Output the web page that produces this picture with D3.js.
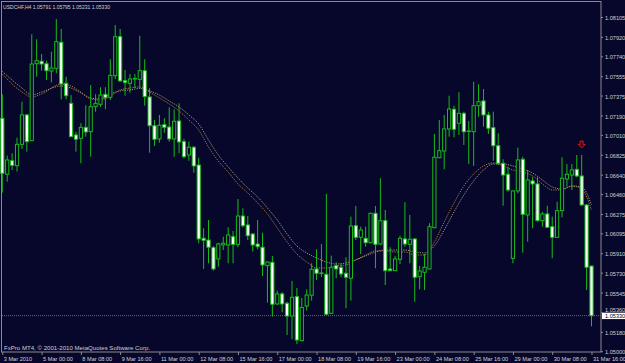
<!DOCTYPE html>
<html>
<head>
<meta charset="utf-8">
<script src="https://cdn.jsdelivr.net/npm/d3@7"></script>
<style>
  body { margin: 0; background: #07072b; }
  svg { display: block; }
</style>
</head>
<body>
<div id="chart"></div>
<script>
// USDCHF H4, 3 Mar 16:00 .. 31 Mar 16:00 (121 bars)
const symbolLabel = 'USDCHF,H4  1.05791 1.05795 1.05231 1.05330';
const copyright = 'FxPro MT4, \u00a9 2001-2010 MetaQuotes Software Corp.';

const opens = [1.07164,1.06644,1.06770,1.06724,1.06922,1.07195,1.06956,1.07671,1.07694,1.07671,
  1.07603,1.07628,1.07870,1.07489,1.07303,1.07009,1.06978,1.07080,1.07040,1.07272,
  1.07294,1.07387,1.07359,1.07560,1.07922,1.07513,1.07489,1.07529,1.07526,1.07606,
  1.07362,1.07095,1.06972,1.07105,1.07083,1.06972,1.07139,1.06947,1.06823,1.06895,
  1.06730,1.06049,1.06033,1.05962,1.05857,1.05987,1.05987,1.06064,1.05993,1.06256,
  1.06173,1.06089,1.05996,1.05966,1.05795,1.05826,1.05439,1.05532,1.05445,1.05327,
  1.05507,1.05098,1.05420,1.05520,1.05764,1.05727,1.05715,1.05352,1.05795,1.05780,
  1.05724,1.05678,1.06166,1.06058,1.06049,1.06008,1.06281,1.05996,1.06213,1.05764,
  1.05748,1.05854,1.06043,1.05993,1.06043,1.05692,1.05733,1.05764,1.06148,1.06798,
  1.06860,1.07065,1.07248,1.07118,1.07210,1.07046,1.07039,1.07281,1.07325,1.07195,
  1.07077,1.06909,1.06746,1.06644,1.05863,1.06489,1.06783,1.06266,1.06582,1.06554,
  1.06213,1.06275,1.06157,1.06058,1.06306,1.06600,1.06637,1.06690,1.06628,1.06359,
  1.05791];
const highs = [1.07387,1.06817,1.06839,1.06984,1.07318,1.07204,1.07944,1.07898,1.07761,1.07699,
  1.07783,1.08086,1.07994,1.07550,1.07380,1.07039,1.07118,1.07285,1.07473,1.07387,
  1.07452,1.07452,1.07712,1.08031,1.07994,1.07613,1.07576,1.07576,1.07931,1.07712,
  1.07443,1.07148,1.07195,1.07164,1.07266,1.07248,1.07303,1.06972,1.06947,1.06907,
  1.06798,1.06142,1.06219,1.05978,1.06008,1.06064,1.06151,1.06117,1.06414,1.06328,
  1.06256,1.06096,1.06219,1.06101,1.05834,1.05885,1.05562,1.05548,1.05460,1.05653,
  1.05587,1.05495,1.05575,1.05817,1.05947,1.05996,1.06461,1.05888,1.05826,1.05817,
  1.05873,1.06250,1.06349,1.06157,1.06157,1.06287,1.06349,1.06607,1.06312,1.05966,
  1.05885,1.06073,1.06384,1.06266,1.06047,1.05792,1.05903,1.06189,1.07018,1.07148,
  1.07195,1.07374,1.07281,1.07406,1.07225,1.07139,1.07504,1.07480,1.07436,1.07225,
  1.07225,1.07025,1.06783,1.06714,1.06493,1.06891,1.06807,1.06684,1.06616,1.06616,
  1.06296,1.06352,1.06250,1.06389,1.06802,1.06739,1.06739,1.06823,1.06823,1.06363,
  1.05795];
const lows = [1.06473,1.06575,1.06684,1.06668,1.06879,1.06854,1.06953,1.07550,1.07606,1.07520,
  1.07497,1.07582,1.07341,1.07341,1.06990,1.06854,1.06746,1.06993,1.06807,1.07225,
  1.07272,1.07248,1.07334,1.07529,1.07504,1.07374,1.07402,1.07445,1.07443,1.07281,
  1.06844,1.06907,1.06937,1.07030,1.06947,1.06807,1.06839,1.06792,1.06770,1.06659,
  1.06003,1.05764,1.05817,1.05748,1.05785,1.05940,1.05817,1.05817,1.05966,1.06151,
  1.06033,1.05925,1.05947,1.05699,1.05451,1.05321,1.05430,1.05362,1.05151,1.05111,
  1.05067,1.05090,1.05377,1.05470,1.05662,1.05690,1.05337,1.05346,1.05678,1.05687,
  1.05399,1.05470,1.06033,1.05903,1.05971,1.06003,1.05770,1.05987,1.05615,1.05745,
  1.05745,1.05810,1.05971,1.05817,1.05460,1.05575,1.05569,1.05761,1.06142,1.06792,
  1.06690,1.06993,1.06987,1.07009,1.06916,1.06739,1.06721,1.07179,1.07086,1.07018,
  1.06770,1.06730,1.06352,1.06482,1.05817,1.06467,1.05915,1.06018,1.06142,1.06203,
  1.06157,1.06147,1.05863,1.06054,1.06244,1.06529,1.06498,1.06616,1.06352,1.05569,
  1.05231];
const closes = [1.06653,1.06777,1.06727,1.06922,1.07195,1.06947,1.07668,1.07699,1.07668,1.07606,
  1.07631,1.07876,1.07483,1.07374,1.06993,1.06969,1.07080,1.07037,1.07272,1.07303,
  1.07380,1.07355,1.07563,1.07922,1.07511,1.07495,1.07529,1.07534,1.07606,1.07365,
  1.07095,1.06969,1.07099,1.07080,1.06972,1.07136,1.06944,1.06807,1.06895,1.06721,
  1.06043,1.06031,1.05966,1.05764,1.05996,1.06003,1.06080,1.05993,1.06256,1.06166,
  1.06073,1.05987,1.05971,1.05801,1.05829,1.05436,1.05532,1.05439,1.05327,1.05501,
  1.05104,1.05406,1.05522,1.05761,1.05724,1.05722,1.05343,1.05780,1.05764,1.05718,
  1.05687,1.06163,1.06058,1.06126,1.06008,1.06281,1.05993,1.06213,1.05748,1.05748,
  1.05857,1.06049,1.05996,1.06040,1.05687,1.05745,1.05780,1.06157,1.06802,1.06863,
  1.07065,1.07250,1.07062,1.07210,1.07039,1.07043,1.07281,1.07318,1.07195,1.07071,
  1.06909,1.06746,1.06637,1.06498,1.06489,1.06777,1.06272,1.06591,1.06554,1.06213,
  1.06275,1.06151,1.06058,1.06306,1.06607,1.06644,1.06684,1.06628,1.06359,1.05780,
  1.05330];

const maBars = [0,4,6,8,12,14,16,18,20,22,24,26,28,30,32,34,36,38,40,42,44,46,48,50,52,54,56,58,60,
  62,64,66,68,70,72,74,76,78,80,82,84,86,88,90,92,94,96,98,100,102,104,106,108,110,112,114,116,118,120];
const maSlow = [1.07599,1.07445,1.07380,1.07408,1.07464,1.07445,1.07399,1.07353,1.07343,1.07390,
  1.07418,1.07427,1.07441,1.07418,1.07380,1.07325,1.07269,1.07195,1.07111,1.06962,1.06823,1.06712,
  1.06609,1.06516,1.06433,1.06331,1.06219,1.06089,1.05978,1.05913,1.05866,1.05829,1.05810,1.05820,
  1.05848,1.05885,1.05922,1.05940,1.05940,1.05940,1.05922,1.05913,1.05978,1.06126,1.06294,1.06451,
  1.06582,1.06684,1.06739,1.06739,1.06721,1.06693,1.06656,1.06591,1.06526,1.06507,1.06535,1.06526,
  1.06359];
const maFast = [1.07576,1.07408,1.07362,1.07390,1.07483,1.07464,1.07408,1.07343,1.07334,1.07371,
  1.07427,1.07445,1.07455,1.07408,1.07353,1.07297,1.07232,1.07148,1.07055,1.06897,1.06767,1.06665,
  1.06554,1.06470,1.06377,1.06275,1.06145,1.06015,1.05903,1.05829,1.05773,1.05773,1.05792,1.05801,
  1.05848,1.05894,1.05931,1.05931,1.05922,1.05922,1.05894,1.05894,1.06015,1.06201,1.06377,1.06535,
  1.06647,1.06721,1.06749,1.06721,1.06684,1.06665,1.06628,1.06554,1.06498,1.06498,1.06535,1.06507,
  1.06312];

const signalBars = [118];
const signalPrices = [1.06888];
const bidPrice = 1.05330;

const priceTicks = [1.08105,1.07920,1.07740,1.07555,1.07375,1.07190,1.07010,1.06825,1.06640,
  1.06460,1.06275,1.06095,1.05910,1.05730,1.05545,1.05360,1.05180,1.05000];
const timeTickBars = [0,8,16,24,32,40,48,56,64,72,80,88,96,104,112,120];
const timeLabels = ['3 Mar 2010','5 Mar 00:00','8 Mar 08:00','9 Mar 16:00','11 Mar 00:00',
  '12 Mar 08:00','15 Mar 16:00','17 Mar 00:00','18 Mar 08:00','19 Mar 16:00','23 Mar 00:00',
  '24 Mar 08:00','25 Mar 16:00','29 Mar 00:00','30 Mar 08:00','31 Mar 16:00'];

const width = 625;
const height = 363;
const plotRight = 601;
const plotBottom = 352;

const bg = '#07072b';
const green = '#17bd17';
const borderColor = '#8c8c8c';
const textColor = '#d0d0d0';
const font = 'Liberation Sans, Arial, sans-serif';
const bodyWidth = 3.2;

const svg = d3.select('#chart').append('svg').attr('width', width).attr('height', height);

svg.append('rect').attr('width', width).attr('height', height).attr('fill', bg);

const x = d3.scaleLinear().domain([0, 120]).range([2.3, 591.5]);
const y = d3.scaleLinear().domain([1.05, 1.08105]).range([351.2, 17.0]);

// frame
svg.append('rect')
  .attr('x', 1.5).attr('y', 1.5)
  .attr('width', plotRight - 1.5).attr('height', plotBottom - 1.5)
  .attr('fill', 'none').attr('stroke', borderColor);

// bid line
svg.append('line')
  .attr('x1', 2).attr('x2', plotRight)
  .attr('y1', y(bidPrice)).attr('y2', y(bidPrice))
  .attr('stroke', '#6a6a6a').attr('stroke-dasharray', '1,1');

// moving averages
const maLine = d3.line().x(d => x(d[0])).y(d => y(d[1])).curve(d3.curveMonotoneX);
svg.append('path')
  .attr('d', maLine(maBars.map((b, i) => [b, maSlow[i]])))
  .attr('fill', 'none').attr('stroke', '#c9bb98').attr('stroke-width', 1)
  .attr('stroke-dasharray', '1.2,1.2').attr('opacity', 0.8);
svg.append('path')
  .attr('d', maLine(maBars.map((b, i) => [b, maFast[i]])))
  .attr('fill', 'none').attr('stroke', '#d89a3a').attr('stroke-width', 1)
  .attr('stroke-dasharray', '1.2,1.2').attr('opacity', 0.8);

// candles
const bars = opens.map((o, i) => ({ i, o, h: highs[i], l: lows[i], c: closes[i] }));
const candles = svg.append('g');
candles.selectAll('line').data(bars).join('line')
  .attr('x1', d => x(d.i)).attr('x2', d => x(d.i))
  .attr('y1', d => y(d.h)).attr('y2', d => y(d.l))
  .attr('stroke', green).attr('stroke-width', 1);
candles.selectAll('rect').data(bars).join('rect')
  .attr('x', d => x(d.i) - bodyWidth / 2)
  .attr('y', d => y(Math.max(d.o, d.c)))
  .attr('width', bodyWidth)
  .attr('height', d => Math.max(0.5, Math.abs(y(d.o) - y(d.c))))
  .attr('fill', d => d.c > d.o ? bg : '#ffffff')
  .attr('stroke', green).attr('stroke-width', 1);

// sell arrow
svg.selectAll('path.signal').data(signalBars).join('path')
  .attr('class', 'signal')
  .attr('transform', (d, i) => `translate(${x(d)},${y(signalPrices[i])})`)
  .attr('d', 'M0,0 L-3.5,-3.5 L-1.5,-3.5 L-1.5,-7 L1.5,-7 L1.5,-3.5 L3.5,-3.5 Z')
  .attr('fill', '#3a0618').attr('stroke', '#c81c1c').attr('stroke-width', 1);

// texts
svg.append('text')
  .attr('x', 3).attr('y', 8.5)
  .attr('font-family', font).attr('font-size', '6px')
  .attr('fill', textColor)
  .attr('textLength', 107).attr('lengthAdjust', 'spacingAndGlyphs')
  .text(symbolLabel);

svg.append('text')
  .attr('x', 4).attr('y', 350)
  .attr('font-family', font).attr('font-size', '6px')
  .attr('fill', textColor)
  .attr('textLength', 146).attr('lengthAdjust', 'spacingAndGlyphs')
  .text(copyright);

// time axis
const xAxis = d3.axisBottom(x)
  .tickValues(timeTickBars)
  .tickFormat((d, i) => timeLabels[i])
  .tickSize(3).tickSizeOuter(0);
const gx = svg.append('g').attr('transform', `translate(0,${plotBottom})`).call(xAxis);
gx.select('.domain').remove();
gx.selectAll('line').attr('stroke', borderColor);
gx.selectAll('text')
  .attr('text-anchor', 'start').attr('dx', 1).attr('y', 5)
  .attr('fill', textColor).attr('font-family', font).attr('font-size', '5.6px');

// price axis
const yAxis = d3.axisRight(y)
  .tickValues(priceTicks)
  .tickFormat(d3.format('.5f'))
  .tickSize(2).tickPadding(2).tickSizeOuter(0);
const gy = svg.append('g').attr('transform', `translate(${plotRight},0)`).call(yAxis);
gy.select('.domain').remove();
gy.selectAll('line').attr('stroke', borderColor);
gy.selectAll('text')
  .attr('dy', d => Math.abs(y(d) - y(bidPrice)) < 7 ? '-0.2em' : '0.45em')
  .attr('fill', textColor).attr('font-family', font).attr('font-size', '5.6px');

// bid price label
svg.append('rect')
  .attr('x', plotRight + 1).attr('y', y(bidPrice) - 3)
  .attr('width', width - plotRight - 1).attr('height', 6.4)
  .attr('fill', '#ffffff');
svg.append('text')
  .attr('x', plotRight + 4).attr('y', y(bidPrice))
  .attr('dy', '0.36em')
  .attr('font-family', font).attr('font-size', '5.6px')
  .attr('fill', '#000000')
  .text(d3.format('.5f')(bidPrice));
</script>
</body>
</html>
